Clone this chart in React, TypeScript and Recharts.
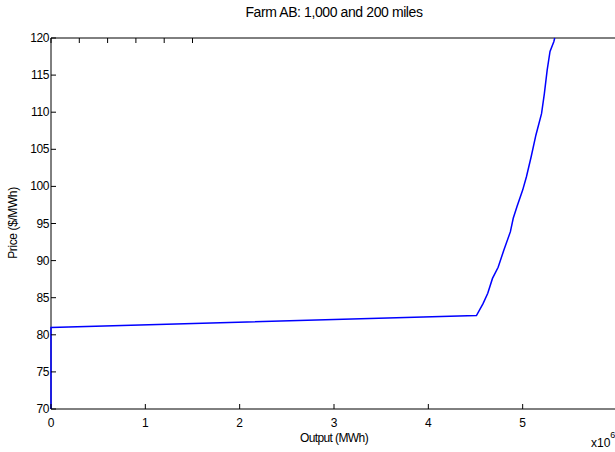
import { LineChart, Line, XAxis, YAxis, ReferenceArea } from 'recharts';

// output in units of 10^6 MWh, price in $/MWh
const outputMWh = [0, 0, 4.51, 4.58, 4.63, 4.68, 4.74, 4.8, 4.87, 4.9, 4.94, 5.0, 5.04, 5.09, 5.14, 5.2, 5.23, 5.26, 5.29, 5.33, 5.34];
const priceUSD = [70, 81, 82.6, 84.2, 85.6, 87.6, 89.1, 91.4, 93.9, 95.7, 97.3, 99.5, 101.3, 104.0, 106.9, 109.8, 112.5, 115.7, 118.2, 119.5, 120];

const xTicks = [0, 1, 2, 3, 4, 5];
const yTicks = [70, 75, 80, 85, 90, 95, 100, 105, 110, 115, 120];

const title = 'Farm AB: 1,000 and 200 miles';
const xLabel = 'Output (MWh)';
const yLabel = 'Price ($/MWh)';

const data = outputMWh.map((x, i) => ({ x, price: priceUSD[i] }));

const font = '"Liberation Sans", Arial, sans-serif';
const TICK_LEN = 5;
const X_MARGIN = 5;
const Y_MARGIN = 2;

// inward tick marks, labels outside (matlab style)
const BottomTick = (p: any) => (
  <g>
    <line x1={p.x} x2={p.x} y1={p.y - X_MARGIN} y2={p.y - X_MARGIN - TICK_LEN} stroke="#000" />
    <text x={p.x} y={p.y + 13} textAnchor="middle" fontSize={12} fontFamily={font} fill="#000">
      {p.payload.value}
    </text>
  </g>
);

const LeftTick = (p: any) => (
  <g>
    <line x1={p.x + Y_MARGIN} x2={p.x + Y_MARGIN + TICK_LEN} y1={p.y} y2={p.y} stroke="#000" />
    <text x={p.x} y={p.y + 4} textAnchor="end" fontSize={12} fontFamily={font} fill="#000" letterSpacing={-0.4}>
      {p.payload.value}
    </text>
  </g>
);

const TopTick = (p: any) => <line x1={p.x} x2={p.x} y1={p.y} y2={p.y + TICK_LEN} stroke="#000" />;
const RightTick = (p: any) => <line x1={p.x} x2={p.x - TICK_LEN} y1={p.y} y2={p.y} stroke="#000" />;

export default function App() {
  return (
    <div style={{ position: 'absolute', left: 0, top: 0, width: 615, height: 452, overflow: 'hidden', background: '#fff', fontFamily: font }}>
      <LineChart width={640} height={452} data={data} margin={{ top: 37, right: 22, bottom: 0, left: 0 }}>
        <XAxis
          dataKey="x"
          type="number"
          domain={[0, 6]}
          ticks={xTicks}
          height={43}
          tickSize={0}
          tickMargin={X_MARGIN}
          axisLine={false}
          tickLine={false}
          tick={<BottomTick />}
          label={{ value: xLabel, position: 'insideBottom', offset: 10, fontSize: 12, fill: '#000', fontFamily: font, letterSpacing: -0.6 }}
        />
        <XAxis xAxisId="top" orientation="top" type="number" domain={[0, 6]} ticks={xTicks} height={1} tickSize={0} tickMargin={0} axisLine={false} tickLine={false} tick={<TopTick />} />
        <YAxis
          type="number"
          domain={[70, 120]}
          ticks={yTicks}
          width={51}
          tickSize={0}
          tickMargin={Y_MARGIN}
          axisLine={false}
          tickLine={false}
          tick={<LeftTick />}
        />
        <YAxis yAxisId="right" orientation="right" type="number" domain={[70, 120]} ticks={yTicks} width={1} tickSize={0} tickMargin={0} axisLine={false} tickLine={false} tick={<RightTick />} />
        <ReferenceArea x1={0} x2={6} y1={70} y2={120} fill="none" fillOpacity={0} stroke="#000" strokeOpacity={1} />
        <Line type="linear" dataKey="price" stroke="#0000ff" strokeWidth={1.5} dot={false} isAnimationActive={false} />
      </LineChart>
      <div style={{ position: 'absolute', left: 0, width: 668, top: 4, textAlign: 'center', fontSize: 14, letterSpacing: -0.4, lineHeight: '16px' }}>
        {title}
      </div>
      <div style={{ position: 'absolute', left: 13, top: 223, transform: 'translate(-50%, -50%) rotate(-90deg)', whiteSpace: 'nowrap', fontSize: 12, letterSpacing: -0.4 }}>
        {yLabel}
      </div>
      <div style={{ position: 'absolute', left: 591, top: 436, fontSize: 12, whiteSpace: 'nowrap' }}>
        x10<span style={{ position: 'relative', top: -9, fontSize: 9 }}>6</span>
      </div>
    </div>
  );
}
